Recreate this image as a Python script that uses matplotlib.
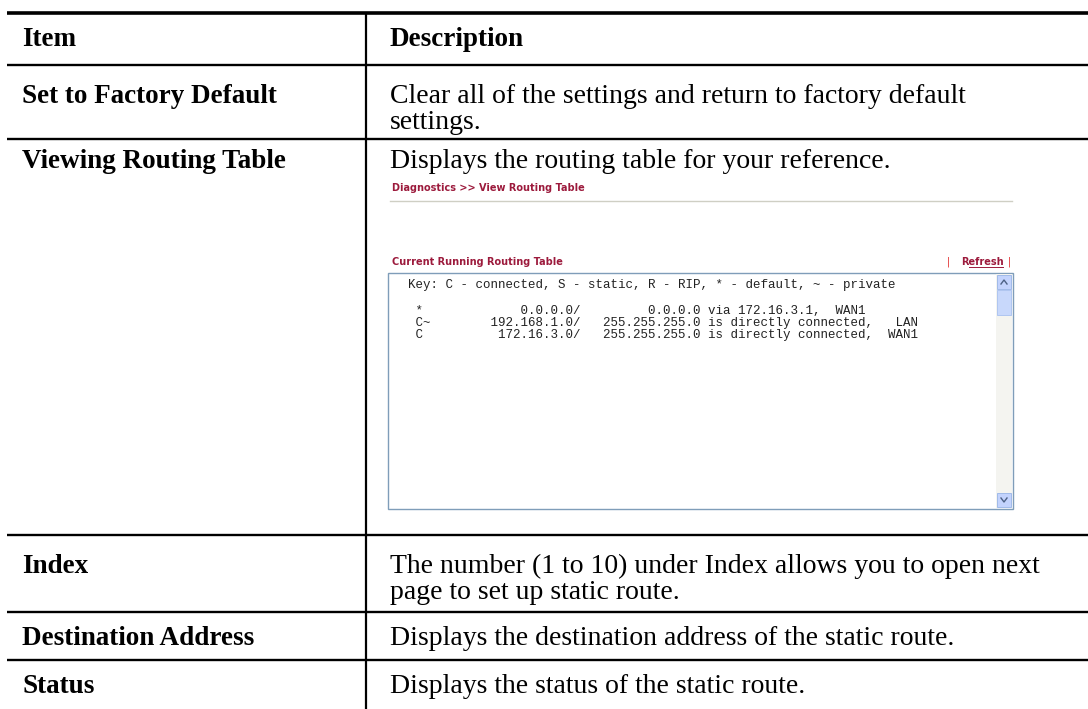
import matplotlib
matplotlib.use("Agg")
import matplotlib.pyplot as plt
from matplotlib.patches import Rectangle

W, H = 1088, 709

# ---- data ----
header = ["Item", "Description"]
items = ["Set to Factory Default", "Viewing Routing Table", "Index",
         "Destination Address", "Status"]
descriptions = [
    ["Clear all of the settings and return to factory default", "settings."],
    ["Displays the routing table for your reference."],
    ["The number (1 to 10) under Index allows you to open next",
     "page to set up static route."],
    ["Displays the destination address of the static route."],
    ["Displays the status of the static route."],
]
shot_title = "Diagnostics >> View Routing Table"
shot_subtitle = "Current Running Routing Table"
shot_link = "Refresh"
route_key = "Key: C - connected, S - static, R - RIP, * - default, ~ - private"
route_flags = ["*", "C~", "C"]
route_nets = ["0.0.0.0/", "192.168.1.0/", "172.16.3.0/"]
route_gws = ["0.0.0.0", "255.255.255.0", "255.255.255.0"]
route_descs = ["via 172.16.3.1,", "is directly connected,", "is directly connected,"]
route_ifaces = ["WAN1", "LAN", "WAN1"]
iface_cols = [57, 65, 64]

# ---- layout (pixel space) ----
fig = plt.figure(figsize=(W / 100, H / 100), dpi=100)
ax = fig.add_axes([0, 0, 1, 1])
ax.set_xlim(0, W)
ax.set_ylim(H, 0)
ax.axis("off")

serif = "Liberation Serif"
fs_reg = 20
fs_bold = 19.5
col1_x, col2_x, div_x = 22, 390, 366
line_x0 = 7

# table rules
ax.plot([line_x0, W], [13, 13], color="black", lw=2.6, solid_capstyle="butt")
for y in [65, 139, 535, 612, 660]:
    ax.plot([line_x0, W], [y, y], color="black", lw=1.7, solid_capstyle="butt")
ax.plot([div_x, div_x], [13, H], color="black", lw=1.6, solid_capstyle="butt")

# header
ax.text(col1_x, 46, header[0], fontsize=fs_bold, fontweight="bold", family=serif, va="baseline")
ax.text(col2_x, 46, header[1], fontsize=fs_bold, fontweight="bold", family=serif, va="baseline")

item_y = [103, 168, 573, 645, 693]
desc_y = [[103, 129], [168], [573, 599], [645], [693]]
for it, y, dl, dys in zip(items, item_y, descriptions, desc_y):
    ax.text(col1_x, y, it, fontsize=fs_bold, fontweight="bold", family=serif, va="baseline")
    for line, dy in zip(dl, dys):
        ax.text(col2_x, dy, line, fontsize=fs_reg, family=serif, va="baseline")

# ---- embedded screenshot ----
red = "#9c1a3c"
ax.text(392, 188, shot_title, fontsize=7, fontweight="bold", color=red,
        family="DejaVu Sans", va="center")
ax.plot([390, 1012], [201, 201], color="#cfcfc4", lw=1.0)
ax.text(392, 262, shot_subtitle, fontsize=7, fontweight="bold", color=red,
        family="DejaVu Sans", va="center")
ax.text(1011, 262, "|", fontsize=7, color="#e02020", va="center", ha="right")
ax.text(1004, 262, shot_link, fontsize=7, fontweight="bold", color=red,
        family="DejaVu Sans", va="center", ha="right")
ax.plot([969, 1003], [267, 267], color=red, lw=0.7)
ax.text(950, 262, "|", fontsize=7, color="#e02020", va="center", ha="right")

# text box
ax.add_patch(Rectangle((388, 273), 625, 236, facecolor="white",
                       edgecolor="#7f9db9", lw=1.0))
# scrollbar
ax.add_patch(Rectangle((996, 274), 16, 234, facecolor="#f4f4f0", edgecolor="none"))
ax.add_patch(Rectangle((997, 275), 14, 14, facecolor="#c3d3fd", edgecolor="#98b4e6", lw=0.6))
ax.add_patch(Rectangle((997, 290), 14, 25, facecolor="#c8d8fb", edgecolor="#a8c0f0", lw=0.6))
ax.add_patch(Rectangle((997, 493), 14, 14, facecolor="#c3d3fd", edgecolor="#98b4e6", lw=0.6))
ax.plot([1001, 1004, 1007], [284, 280, 284], color="#4d6185", lw=1.0)
ax.plot([1001, 1004, 1007], [498, 502, 498], color="#4d6185", lw=1.0)

mono = "Liberation Mono"
mfs = 9.0
ax.text(408, 285, route_key, fontsize=mfs, family=mono, va="center", color="#222222")
row_y = [311, 323, 335]
for f, n, g, d, i, ic, y in zip(route_flags, route_nets, route_gws, route_descs,
                                 route_ifaces, iface_cols, row_y):
    line = " " + f.ljust(22 - len(n)) + n + "   " + g.rjust(13) + " " + d
    line = line.ljust(ic) + i
    ax.text(408, y, line, fontsize=mfs, family=mono, va="center", color="#222222")

fig.savefig("out.png", dpi=100)
